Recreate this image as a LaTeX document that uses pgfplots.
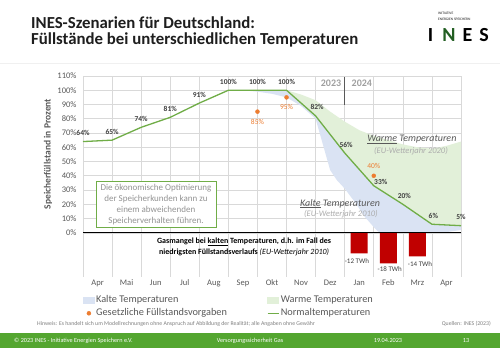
\documentclass[border=0pt]{standalone}
\usepackage{pgfplots}
\pgfplotsset{compat=1.18}
\usepackage{fontspec}
\setmainfont{Carlito}
\definecolor{gridc}{HTML}{D9D9D9}
\definecolor{tickc}{HTML}{595959}
\definecolor{lgreen}{HTML}{70AD47}
\definecolor{orng}{HTML}{ED7D31}
\definecolor{coldf}{HTML}{DAE3F3}
\definecolor{warmf}{HTML}{E2F0D9}
\definecolor{barred}{HTML}{C00000}
\definecolor{footg}{HTML}{54A630}
\definecolor{lblc}{HTML}{404040}
\definecolor{titc}{HTML}{1E1E1E}
\newcommand{\lab}[3]{\node[font=\fontsize{7.5}{9}\selectfont\bfseries, text=lblc, inner sep=0pt] at (axis cs:#1,#2) [yshift=8.5pt] {#3};}
\begin{document}
\begin{tikzpicture}[x=1pt,y=1pt]
\useasboundingbox (0,0) rectangle (500,353);
\fill[white] (0,0) rectangle (500,353);
% title
\node[anchor=base west, inner sep=0pt, font=\fontsize{16.8}{18}\selectfont\bfseries, text=titc] at (31,324.7) {INES-Szenarien für Deutschland:};
\node[anchor=base west, inner sep=0pt, font=\fontsize{16.8}{18}\selectfont\bfseries, text=titc] at (31,308.3) {Füllstände bei unterschiedlichen Temperaturen};
\draw[gray!12, line width=0.6pt] (0,290) -- (500,290);
% logo
\node[anchor=base west, inner sep=0pt, font=\fontsize{3.6}{4}\selectfont, text=titc] at (438,338) {INITIATIVE};
\node[anchor=base west, inner sep=0pt, font=\fontsize{3.6}{4}\selectfont, text=titc] at (438,332) {ENERGIEN SPEICHERN};
\node[anchor=base, inner sep=0pt, font=\fontsize{20}{22}\selectfont\bfseries, text=black] at (430.5,311) {I};
\node[anchor=base, inner sep=0pt, font=\fontsize{20}{22}\selectfont\bfseries, text={rgb,255:red,35;green,95;blue,35}] at (449,311) {N};
\node[anchor=base, inner sep=0pt, font=\fontsize{20}{22}\selectfont\bfseries, text=black] at (467.5,311) {E};
\node[anchor=base, inner sep=0pt, font=\fontsize{20}{22}\selectfont\bfseries, text=black] at (484,311) {S};
% y label
\node[rotate=90, inner sep=0pt, font=\fontsize{9.5}{11}\selectfont\bfseries, text=tickc] at (48,199) {Speicherfüllstand in Prozent};
\begin{axis}[
  at={(83pt,76pt)}, anchor=south west, scale only axis,
  width=378pt, height=201pt,
  xmin=0, xmax=13, ymin=-31, ymax=110,
  axis line style={draw=none},
  clip=false,
  xtick={0.5,1.5,2.5,3.5,4.5,5.5,6.5,7.5,8.5,9.5,10.5,11.5,12.5},
  xticklabels={Apr,Mai,Jun,Jul,Aug,Sep,Okt,Nov,Dez,Jan,Feb,Mrz,Apr},
  minor xtick={0,1,2,3,4,5,6,7,8,9,10,11,12,13},
  xminorgrids=true,
  ytick={0,10,20,30,40,50,60,70,80,90,100,110},
  yticklabels={0\%,10\%,20\%,30\%,40\%,50\%,60\%,70\%,80\%,90\%,100\%,110\%},
  ymajorgrids=true,
  major grid style={gridc, line width=0.6pt},
  minor grid style={gridc, line width=0.6pt},
  major tick length=0pt, minor tick length=0pt,
  tick label style={font=\fontsize{8.5}{10}\selectfont, text=tickc},
  yticklabel style={xshift=-3pt},
  xticklabel style={anchor=north, text height=6pt, text depth=2pt, inner sep=0pt, yshift=-2pt},
  legend columns=2,
  legend cell align=left,
  legend style={at={(0.0,-0.085)}, anchor=north west, draw=none, fill=none,
     font=\fontsize{10.3}{11}\selectfont, text=tickc, inner sep=0pt,
     nodes={inner sep=1.5pt, text height=7pt, text depth=2pt},
     row sep=1pt,
     /tikz/column 2/.style={column sep=38.5pt}},
]
% legend entries
\addlegendimage{legend image code/.code={\fill[coldf] (0pt,-2.5pt) rectangle (11pt,3.5pt);}}
\addlegendentry{Kalte Temperaturen}
\addlegendimage{legend image code/.code={\fill[warmf] (0pt,-2.5pt) rectangle (11pt,3.5pt);}}
\addlegendentry{Warme Temperaturen}
\addlegendimage{legend image code/.code={\path[draw=none, fill=none] (0pt,-2.5pt) rectangle (11pt,3.5pt); \draw[only marks, mark=*, mark size=2pt, orng] plot coordinates {(5.5pt,0pt)};}}
\addlegendentry{Gesetzliche Füllstandsvorgaben}
\addlegendimage{legend image code/.code={\path[draw=none, fill=none] (0pt,-2.5pt) rectangle (11pt,3.5pt); \draw[lgreen, line width=1.3pt] (0pt,0pt) -- (11pt,0pt);}}
\addlegendentry{Normaltemperaturen}
% warm area
\addplot[fill=warmf, draw=none, forget plot] coordinates {
 (7,100)(7.5,97)(8,93)(8.5,85)(9,78)(9.5,72)(10,68)(10.5,65)(11,62)(11.5,60)(12,59)(12.5,61)(13,64)
 (13,5)(12,6)(11,20)(10,33)(9,56)(8,82)(7,100)};
% cold area
\addplot[fill=coldf, draw=none, forget plot] coordinates {
 (5,100)(6,100)(7,100)(8,82)(9,56)(10,33)(11,20)(12,6)(13,5)
 (13,2)(12.5,0.5)(12,0)(11,0)(10.2,0)(10,4)(9.66,12)(9.39,20.5)(9,31)(8.73,37)(8.5,44)(8.25,62)(8,80)(7.5,89)(7,95)(6.5,97.5)(6,99)(5.5,100)(5,100)};
% bars (TWh shortage, drawn to scale)
\addplot[ybar, bar width=17pt, fill=barred, draw=none, forget plot] coordinates {(9.5,-14.5)(10.5,-21.5)(11.5,-16.6)};
% zero line
\draw[black, line width=1.3pt] (axis cs:0,0) -- (axis cs:13,0);
% normal line
\addplot[lgreen, line width=1.3pt, forget plot] coordinates {
 (0,64)(1,65)(2,74)(3,81)(4,91)(5,100)(6,100)(7,100)(8,82)(9,56)(10,33)(11,20)(12,6)(13,5)};
% legal targets
\addplot[only marks, mark=*, mark size=2pt, orng, forget plot] coordinates {(6,85)(7,95)(10,40)};
% line labels
\lab{0}{64}{64\%}
\lab{1}{65}{65\%}
\lab{2}{74}{74\%}
\lab{3}{81}{81\%}
\lab{4}{91}{91\%}
\lab{5}{100}{100\%}
\lab{6}{100}{100\%}
\lab{7}{100}{100\%}
\lab{8.05}{82}{82\%}
\lab{9.05}{56}{56\%}
\node[font=\fontsize{7.5}{9}\selectfont\bfseries, text=lblc, inner sep=0pt] at (axis cs:10,33) [xshift=7pt, yshift=3.5pt] {33\%};
\lab{11.05}{20}{20\%}
\lab{12.05}{6}{6\%}
\lab{13}{5}{5\%}
% orange labels
\node[font=\fontsize{7.5}{9}\selectfont, text=orng, inner sep=0pt] at (axis cs:6,85) [yshift=-10pt] {85\%};
\node[font=\fontsize{7.5}{9}\selectfont, text=orng, inner sep=0pt] at (axis cs:7,95) [yshift=-9.5pt] {95\%};
\node[font=\fontsize{7.5}{9}\selectfont, text=orng, inner sep=0pt] at (axis cs:10,40) [yshift=10pt] {40\%};
% bar labels
\node[font=\fontsize{7}{8}\selectfont, text=lblc, inner sep=0pt] at (axis cs:9.42,-20.1) {-12 TWh};
\node[font=\fontsize{7}{8}\selectfont, text=lblc, inner sep=0pt] at (axis cs:10.55,-25.4) {-18 TWh};
\node[font=\fontsize{7}{8}\selectfont, text=lblc, inner sep=0pt] at (axis cs:11.59,-21.7) {-14 TWh};
% scenario annotations
\node[font=\fontsize{10}{12}\selectfont\itshape, text=tickc, inner sep=0pt] at (axis cs:11.31,65.4) {\underline{Warme} Temperaturen};
\node[font=\fontsize{8.5}{10}\selectfont\itshape, text=gray!65, inner sep=0pt] at (axis cs:11.28,57) {(EU-Wetterjahr 2020)};
\node[font=\fontsize{10}{12}\selectfont\itshape, text=tickc, inner sep=0pt] at (axis cs:8.84,20.5) {\underline{Kalte} Temperaturen};
\node[font=\fontsize{8.5}{10}\selectfont\itshape, text=gray!65, inner sep=0pt] at (axis cs:8.87,12.8) {(EU-Wetterjahr 2010)};
% years
\node[font=\fontsize{10}{12}\selectfont\bfseries, text=gray!75, inner sep=0pt] at (axis cs:8.53,104.6) {2023};
\node[font=\fontsize{10}{12}\selectfont\bfseries, text=gray!75, inner sep=0pt] at (axis cs:9.59,104.6) {2024};
\draw[tickc, line width=0.8pt] (axis cs:9,109.3) -- (axis cs:9,89.8);
% text box
\node[draw=lgreen, line width=0.9pt, fill=white, minimum width=120pt, minimum height=46pt, inner sep=0pt, align=center,
      font=\fontsize{9}{10.7}\selectfont, text=gray!85] at (axis cs:2.51,19.8)
  {Die ökonomische Optimierung\\der Speicherkunden kann zu\\einem abweichenden\\Speicherverhalten führen.};
% shortage text
\node[font=\fontsize{8}{11}\selectfont\bfseries, text=black, inner sep=0pt, align=center] at (axis cs:5.54,-10)
  {Gasmangel bei \underline{kalten} Temperaturen, d.h. im Fall des\\niedrigsten Füllstandsverlaufs {\mdseries\itshape (EU-Wetterjahr 2010)}};
\end{axis}
% notes and footer
\node[anchor=west, inner sep=0pt, font=\fontsize{5.8}{7}\selectfont, text=gray] at (37,29) {Hinweis: Es handelt sich um Modellrechnungen ohne Anspruch auf Abbildung der Realität; alle Angaben ohne Gewähr};
\node[anchor=east, inner sep=0pt, font=\fontsize{5.8}{7}\selectfont, text=gray] at (491,29) {Quellen: INES (2023)};
\fill[footg] (0,5) rectangle (500,20);
\node[anchor=west, inner sep=0pt, font=\fontsize{6.2}{7}\selectfont, text=white] at (14,12) {© 2023 INES - Initiative Energien Speichern e.V.};
\node[inner sep=0pt, font=\fontsize{6.2}{7}\selectfont, text=white] at (250,12) {Versorgungssicherheit Gas};
\node[inner sep=0pt, font=\fontsize{6.2}{7}\selectfont, text=white] at (388,12) {19.04.2023};
\node[inner sep=0pt, font=\fontsize{6.2}{7}\selectfont, text=white] at (466,12) {13};
\end{tikzpicture}
\end{document}
